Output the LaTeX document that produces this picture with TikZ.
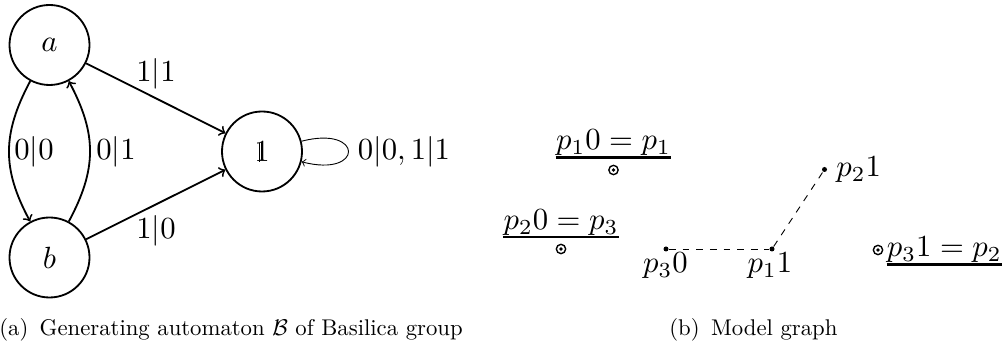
\documentclass[tikz,border=0pt]{standalone}
\newcommand\gs[1]{\scalebox{1.35}{#1}}
\newcommand\dsone{\rlap{1}\kern0.165em\vrule height 0.6em depth 0pt width 0.035em\kern0.3em}
\tikzset{
  st/.style={circle, draw, line width=0.8pt, minimum size=35.2pt, inner sep=0pt},
  ed/.style={->, line width=0.8pt},
  lbl/.style={inner sep=0pt},
  dotn/.style={circle, fill, minimum size=2.2pt, inner sep=0pt},
  odotn/.style={circle, draw, line width=0.6pt, minimum size=4.1pt, inner sep=0pt,
    path picture={\fill (path picture bounding box.center) circle (0.85pt);}},
  uline/.style={line width=1.2pt},
  dsh/.style={dashed, line width=0.4pt},
  captxt/.style={inner sep=0pt, font=\normalsize},
}
\begin{document}
\begin{tikzpicture}[x=0.44pt,y=-0.44pt]
\useasboundingbox (0,0) rectangle (1006,345);
% automaton
\node[st] (a) at (49.5,45) {\gs{$a$}};
\node[st] (b) at (49.5,257.5) {\gs{$b$}};
\node[st] (one) at (262,151.5) {\gs{\dsone}};
\draw[ed] (a) -- (one);
\draw[ed] (b) -- (one);
\draw[ed] (a) .. controls (2,134) and (2,169) .. (b);
\draw[ed] (b) .. controls (97,169) and (97,134) .. (a);
\draw[->, line width=0.4pt] (one) .. controls (364,125) and (364,178) .. (one);
\node[lbl, anchor=base] (l11) at (156,82) {\gs{$1|1$}};
\node[lbl, anchor=base] (l10) at (156,239) {\gs{$1|0$}};
\node[lbl, anchor=base] (l00) at (34,160) {\gs{$0|0$}};
\node[lbl, anchor=base] (l01) at (116,160) {\gs{$0|1$}};
\node[lbl, anchor=base] (lloop) at (404,160) {\gs{$0|0, 1|1$}};
% model graph
\node[lbl, anchor=base] (t1) at (613.5,150) {\gs{$p_10=p_1$}};
\draw[uline] ([yshift=-0.5pt]t1.south west) -- ([yshift=-0.5pt]t1.south east);
\node[odotn] (o1) at (613.5,170) {};
\node[lbl, anchor=base] (t2) at (561,229.5) {\gs{$p_20=p_3$}};
\draw[uline] ([yshift=-0.5pt]t2.south west) -- ([yshift=-0.5pt]t2.south east);
\node[odotn] (o2) at (561,249) {};
\node[dotn] (p30) at (666,249) {};
\node[dotn] (p11) at (772,249) {};
\node[dotn] (p21) at (824.5,169.5) {};
\draw[dsh] (p30) -- (p11);
\draw[dsh] (p11) -- (p21);
\node[lbl, anchor=base] (lp30) at (665.5,273) {\gs{$p_30$}};
\node[lbl, anchor=base] (lp11) at (770,273) {\gs{$p_11$}};
\node[lbl, anchor=base west] (lp21) at (836,176.5) {\gs{$p_21$}};
\node[odotn] (o3) at (878,250) {};
\node[lbl, anchor=base west] (t3) at (886.5,257) {\gs{$p_31=p_2$}};
\draw[uline] ([yshift=-0.5pt]t3.south west) -- ([yshift=-0.5pt]t3.south east);
% captions
\node[captxt, anchor=base] (capa) at (231,335.5) {(a)\hspace{5pt}Generating automaton $\mathcal{B}$ of Basilica group};
\node[captxt, anchor=base] (capb) at (753.4,335.5) {(b)\hspace{5pt}Model graph};
\end{tikzpicture}
\end{document}
